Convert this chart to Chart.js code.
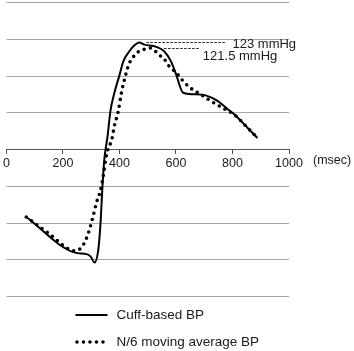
<!DOCTYPE html>
<html>
<head>
<meta charset="utf-8">
<script src="https://cdn.jsdelivr.net/npm/chart.js@4"></script>
<style>
  html, body { margin: 0; padding: 0; background: #fff; }
  canvas { display: block; }
</style>
</head>
<body>
<canvas id="chart" width="354" height="351"></canvas>
<script>
// time (msec) and pressure (mmHg)
const cuffMs = [70, 242, 284, 298, 312, 325, 333, 339, 346, 351, 358, 368, 382, 400, 414, 435, 453, 470, 488, 530, 558, 582, 600, 625, 660, 705, 747, 782, 804, 853, 888];
const cuffBp = [75.5, 65.8, 65.4, 64.7, 63.1, 66.6, 73.9, 82.8, 90.9, 94, 97.6, 104.4, 109.3, 114.1, 117.9, 120.6, 122.2, 123, 122.4, 121.8, 120.6, 117.9, 114.4, 109.3, 108.9, 108.6, 107.1, 104.9, 103.6, 99.8, 97];

const avgMs = [70, 150, 242, 260, 274, 291, 305, 319, 333, 344, 351, 361, 372, 382, 396, 407, 421, 435, 446, 456, 470, 491, 505, 519, 537, 558, 575, 593, 607, 625, 646, 667, 695, 716, 740, 765, 782, 804, 853, 888];
const avgBp = [75.5, 71, 66.3, 66.8, 68.2, 71.4, 75.2, 79.5, 82.8, 87.4, 91.2, 94.4, 96.3, 100.3, 104.4, 109.3, 113.9, 117.4, 118.7, 119.8, 120.6, 121.2, 121.5, 121.2, 119.8, 118.5, 116.6, 115.3, 114.2, 112.5, 110.9, 109.8, 108.5, 107.4, 106.3, 105.2, 104.4, 103.5, 99.8, 97];

const seriesNames = ['Cuff-based BP', 'N/6 moving average BP'];
const xTicks = [0, 200, 400, 600, 800, 1000];
const yGrid = [54, 64, 74, 84, 104, 114, 124, 134];
const peakValues = [123, 121.5];
const peakLabels = ['123 mmHg', '121.5 mmHg'];

const toPoints = (xs, ys) => xs.map((v, i) => ({ x: v, y: ys[i] }));

Chart.defaults.font.family = "'Liberation Sans', Arial, sans-serif";
Chart.defaults.color = '#1a1a1a';

// dashed guides and labels for the two peaks
const notes = [
  { from: 495, to: 775, tx: 800, ty: 122.5 },
  { from: 558, to: 681, tx: 695, ty: 119.3 }
];

const extras = {
  id: 'extras',
  beforeDatasetsDraw(chart) {
    // horizontal grid
    const { ctx, chartArea, scales: { y } } = chart;
    ctx.save();
    ctx.strokeStyle = '#a6a6a6';
    ctx.lineWidth = 1.2;
    yGrid.forEach(v => {
      const py = Math.round(y.getPixelForValue(v)) + 0.5;
      ctx.beginPath();
      ctx.moveTo(chartArea.left, py);
      ctx.lineTo(chartArea.right, py);
      ctx.stroke();
    });
    ctx.restore();
  },
  afterDatasetsDraw(chart) {
    const { ctx, chartArea, scales: { x, y } } = chart;
    ctx.save();

    // peak guides
    ctx.strokeStyle = '#222';
    ctx.lineWidth = 1;
    ctx.setLineDash([2.5, 1.5]);
    ctx.font = "13px 'Liberation Sans', Arial, sans-serif";
    ctx.fillStyle = '#1a1a1a';
    ctx.textBaseline = 'middle';
    ctx.textAlign = 'left';
    notes.forEach((n, i) => {
      const py = Math.round(y.getPixelForValue(peakValues[i])) + 0.5;
      ctx.beginPath();
      ctx.moveTo(x.getPixelForValue(n.from), py);
      ctx.lineTo(x.getPixelForValue(n.to), py);
      ctx.stroke();
      ctx.fillText(peakLabels[i], x.getPixelForValue(n.tx), y.getPixelForValue(n.ty));
    });
    ctx.setLineDash([]);

    // axis unit
    ctx.font = "12.5px 'Liberation Sans', Arial, sans-serif";
    ctx.fillText('(msec)', chartArea.right + 24, y.getPixelForValue(94) + 12);

    // legend
    ctx.font = "13.5px 'Liberation Sans', Arial, sans-serif";
    chart.data.datasets.forEach((ds, i) => {
      const ly = chartArea.bottom + 19 + i * 27;
      const lx = chartArea.left + 69;
      ctx.beginPath();
      ctx.strokeStyle = ds.borderColor;
      ctx.lineWidth = ds.borderWidth;
      ctx.lineCap = ds.borderCapStyle || 'butt';
      ctx.setLineDash(ds.borderDash || []);
      ctx.moveTo(i ? lx + 1.5 : lx, ly);
      ctx.lineTo(lx + 32, ly);
      ctx.stroke();
      ctx.setLineDash([]);
      ctx.fillText(ds.label, lx + 41, ly);
    });
    ctx.restore();
  }
};

new Chart(document.getElementById('chart'), {
  type: 'line',
  data: {
    datasets: [
      {
        label: seriesNames[0],
        data: toPoints(cuffMs, cuffBp),
        borderColor: '#000',
        borderWidth: 2,
        pointRadius: 0,
        cubicInterpolationMode: 'monotone'
      },
      {
        label: seriesNames[1],
        data: toPoints(avgMs, avgBp),
        borderColor: '#000',
        borderWidth: 3.6,
        borderDash: [0, 6.5],
        borderCapStyle: 'round',
        pointRadius: 0,
        cubicInterpolationMode: 'monotone'
      }
    ]
  },
  options: {
    responsive: false,
    animation: false,
    layout: { padding: { left: 4, right: 65, top: 2, bottom: 55 } },
    plugins: {
      legend: { display: false },
      tooltip: { enabled: false }
    },
    scales: {
      y: {
        type: 'linear',
        display: false,
        min: 54,
        max: 134
      },
      x: {
        type: 'linear',
        position: { y: 94 },
        min: 0,
        max: 1000,
        afterBuildTicks: s => { s.ticks = xTicks.map(v => ({ value: v })); },
        ticks: { padding: 3, maxRotation: 0, font: { size: 12.5 }, color: '#1a1a1a', callback: v => String(v) },
        grid: { drawOnChartArea: false, drawTicks: true, tickLength: 4, color: '#555' },
        border: { color: '#555', width: 1 }
      }
    }
  },
  plugins: [extras]
});
</script>
</body>
</html>
